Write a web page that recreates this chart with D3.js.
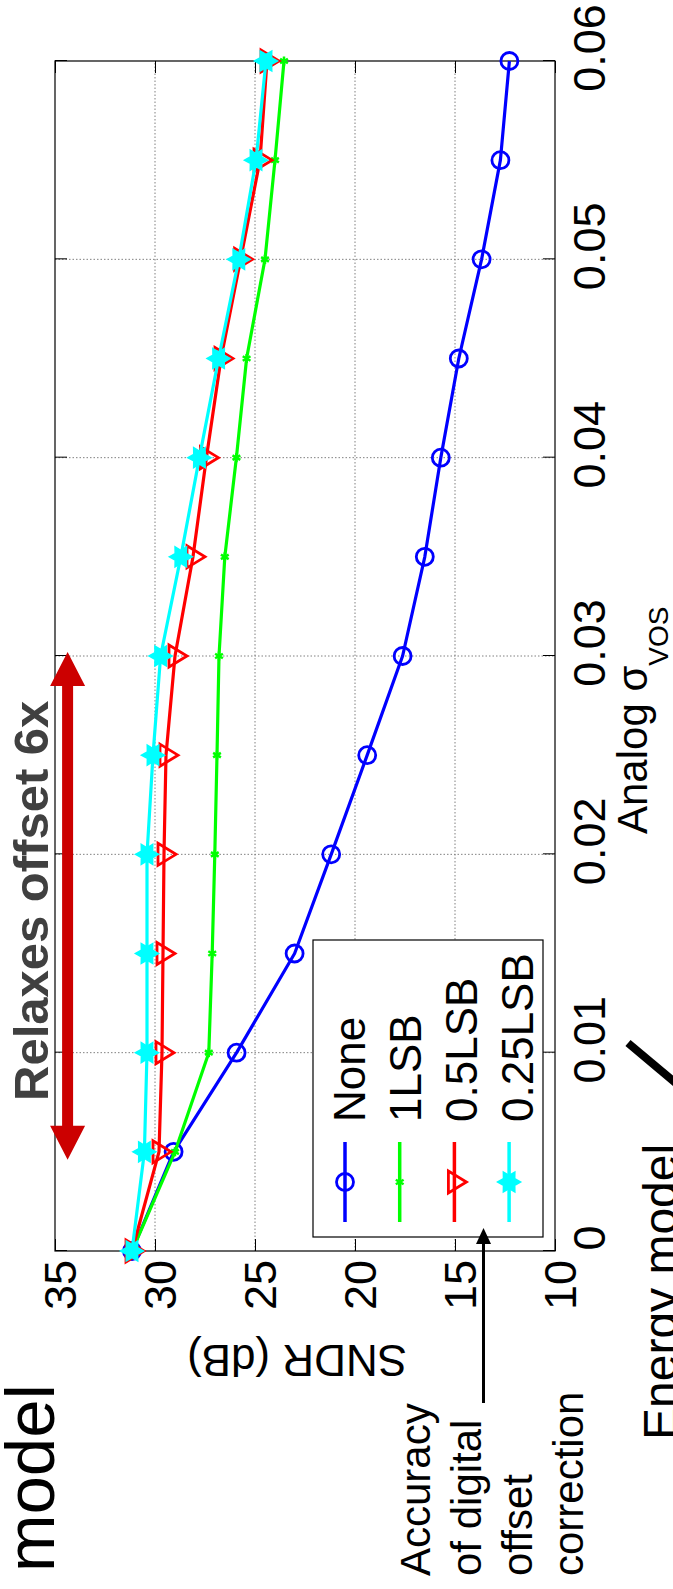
<!DOCTYPE html>
<html><head><meta charset="utf-8">
<script src="https://cdn.jsdelivr.net/npm/d3@7"></script>
<style>body{margin:0;background:#fff}svg{display:block}text{font-family:"Liberation Sans",Arial,sans-serif}</style>
</head><body>
<svg id="c" width="673" height="1589"></svg>
<script>
// ---- data ----
const sigma = [0, 0.005, 0.01, 0.015, 0.02, 0.025, 0.03, 0.035, 0.04, 0.045, 0.05, 0.055, 0.06];
const sndrNone   = [31.15, 29.07, 25.92, 23.02, 21.19, 19.39, 17.62, 16.51, 15.71, 14.81, 13.67, 12.73, 12.28];
const sndr1LSB   = [31.15, 29.0, 27.31, 27.14, 27.01, 26.9, 26.8, 26.51, 25.93, 25.42, 24.5, 24.0, 23.55];
const sndr05LSB  = [31.15, 29.8, 29.65, 29.6, 29.55, 29.45, 29.0, 28.1, 27.43, 26.7, 25.72, 24.75, 24.4];
const sndr025LSB = [31.15, 30.53, 30.4, 30.4, 30.4, 30.1, 29.72, 28.71, 27.78, 26.82, 25.81, 24.95, 24.45];
const seriesNames = ["None", "1LSB", "0.5LSB", "0.25LSB"];
const seriesColors = ["#0000ff", "#00ff00", "#ff0000", "#00ffff"];
const seriesMarkers = ["circle", "asterisk", "triangle", "hexagram"];
const xTicks = [0, 0.01, 0.02, 0.03, 0.04, 0.05, 0.06];
const xTickLabels = ["0", "0.01", "0.02", "0.03", "0.04", "0.05", "0.06"];
const yTicks = [10, 15, 20, 25, 30, 35];
// annotation anchors in data units
const relaxArrowSigma = [0.0046, 0.0302];
const relaxArrowSNDR = 34.37;

const series = [sndrNone, sndr1LSB, sndr05LSB, sndr025LSB];

// ---- drawing (chart built upright, then rotated -90deg) ----
const svg = d3.select("#c");
const g = svg.append("g").attr("transform", "translate(0,1589) rotate(-90)");
const x = d3.scaleLinear().domain([0, 0.06]).range([338, 1528]);
const y = d3.scaleLinear().domain([10, 35]).range([555, 55]);
const X0 = x.range()[0], X1 = x.range()[1], Y0 = y.range()[1], Y1 = y.range()[0];

// grid
const grid = g.append("g").attr("stroke", "#808080").attr("stroke-width", 1).attr("stroke-dasharray", "1.5,2");
grid.selectAll(".gx").data(xTicks.slice(1, -1)).join("line")
  .attr("x1", d => x(d)).attr("x2", d => x(d)).attr("y1", Y0).attr("y2", Y1);
grid.selectAll(".gy").data(yTicks.slice(1, -1)).join("line")
  .attr("y1", d => y(d)).attr("y2", d => y(d)).attr("x1", X0).attr("x2", X1);

// axes
const ax = g.append("g").attr("transform", `translate(0,${Y1})`)
  .call(d3.axisBottom(x).tickValues(xTicks).tickFormat((d, i) => xTickLabels[i]).tickSizeInner(-12).tickSizeOuter(0).tickPadding(18));
ax.selectAll("text").attr("x", 12.5).attr("font-size", 45).attr("fill", "#000");
const ay = g.append("g").attr("transform", `translate(${X0},0)`)
  .call(d3.axisLeft(y).tickValues(yTicks).tickSizeInner(-12).tickSizeOuter(0).tickPadding(9));
ay.selectAll("text").attr("y", 6).attr("font-size", 45).attr("fill", "#000");
g.append("g").attr("transform", `translate(0,${Y0})`)
  .call(d3.axisTop(x).tickValues(xTicks).tickFormat("").tickSizeInner(-12).tickSizeOuter(0));
g.append("g").attr("transform", `translate(${X1},0)`)
  .call(d3.axisRight(y).tickValues(yTicks).tickFormat("").tickSizeInner(-12).tickSizeOuter(0));
g.selectAll(".domain").remove();
g.selectAll(".tick line").attr("stroke", "#000");
g.selectAll("text").attr("font-family", "Liberation Sans, Arial, sans-serif");
g.append("rect").attr("x", X0).attr("y", Y0).attr("width", X1 - X0).attr("height", Y1 - Y0)
  .attr("fill", "none").attr("stroke", "#000").attr("stroke-width", 1.2);

// marker drawing
function hexPath(ro, ri) {
  const pts = [];
  for (let k = 0; k < 12; k++) {
    const a = -Math.PI / 2 + k * Math.PI / 6;
    const r = k % 2 === 0 ? ro : ri;
    pts.push([r * Math.cos(a), r * Math.sin(a)]);
  }
  return "M" + pts.map(p => p.join(",")).join("L") + "Z";
}
function drawMarker(sel, type, color) {
  if (type === "circle") {
    sel.append("circle").attr("r", 8.5).attr("fill", "none").attr("stroke", color).attr("stroke-width", 2.8);
  } else if (type === "asterisk") {
    [0, 60, 120].forEach(a => sel.append("line").attr("x1", -4.5).attr("x2", 4.5)
      .attr("transform", `rotate(${a})`).attr("stroke", color).attr("stroke-width", 2.5));
  } else if (type === "triangle") {
    const w = 22, h = 18;
    sel.append("path").attr("d", `M${-w / 2},${-h / 3}L${w / 2},${-h / 3}L0,${2 * h / 3}Z`)
      .attr("fill", "none").attr("stroke", color).attr("stroke-width", 2.8).attr("stroke-linejoin", "miter");
  } else if (type === "hexagram") {
    sel.append("path").attr("d", hexPath(11.5, 6.5)).attr("fill", color).attr("stroke", color).attr("stroke-width", 1.5);
  }
}

const line = d3.line().x((d, i) => x(sigma[i])).y(d => y(d));
series.forEach((vals, s) => {
  const sg = g.append("g");
  sg.append("path").attr("d", line(vals)).attr("fill", "none")
    .attr("stroke", seriesColors[s]).attr("stroke-width", 3.2).attr("stroke-linejoin", "round");
  vals.forEach((v, i) => {
    const m = sg.append("g").attr("transform", `translate(${x(sigma[i])},${y(v)})`);
    drawMarker(m, seriesMarkers[s], seriesColors[s]);
  });
});

// legend
const lg = g.append("g");
lg.append("rect").attr("x", 352).attr("y", 313).attr("width", 297).attr("height", 230)
  .attr("fill", "#fff").attr("stroke", "#000").attr("stroke-width", 1.2);
seriesNames.forEach((name, i) => {
  const cy = 345 + 54.7 * i;
  lg.append("line").attr("x1", 367).attr("x2", 447).attr("y1", cy).attr("y2", cy)
    .attr("stroke", seriesColors[i]).attr("stroke-width", 3.5);
  drawMarker(lg.append("g").attr("transform", `translate(407,${cy})`), seriesMarkers[i], seriesColors[i]);
  lg.append("text").attr("x", 467).attr("y", 365 + 56 * i).attr("font-size", 44).attr("fill", "#000").text(name);
});

// axis labels
g.append("text").attr("transform", "translate(244,297) rotate(-90)").attr("text-anchor", "middle")
  .attr("font-size", 44).attr("fill", "#000").text("SNDR (dB)");
const xl = g.append("text").attr("x", 755).attr("y", 647).attr("font-size", 42).attr("fill", "#000");
xl.append("tspan").text("Analog σ");
xl.append("tspan").attr("font-size", 28).attr("dy", 21).text("VOS");

// red double arrow
const ax1 = x(relaxArrowSigma[0]), ax2 = x(relaxArrowSigma[1]), ay0 = y(relaxArrowSNDR);
const hl = 34, hw = 17.5, sw = 5.5;
g.append("path").attr("fill", "#cc0000").attr("d",
  `M${ax1},${ay0}L${ax1 + hl},${ay0 - hw}L${ax1 + hl},${ay0 - sw}L${ax2 - hl},${ay0 - sw}L${ax2 - hl},${ay0 - hw}` +
  `L${ax2},${ay0}L${ax2 - hl},${ay0 + hw}L${ax2 - hl},${ay0 + sw}L${ax1 + hl},${ay0 + sw}L${ax1 + hl},${ay0 + hw}Z`);
g.append("text").attr("x", 488).attr("y", 48).attr("font-size", 49).attr("font-weight", "bold")
  .attr("fill", "#404040").text("Relaxes offset 6x");

// other annotations
g.append("text").attr("x", 17).attr("y", 54).attr("font-size", 69).attr("fill", "#000").text("model");
g.append("text").attr("x", 149).attr("y", 677).attr("font-size", 48).attr("fill", "#000").text("Energy model");
g.append("line").attr("x1", 546).attr("y1", 628).attr("x2", 494).attr("y2", 690)
  .attr("stroke", "#000").attr("stroke-width", 8);
const accLines = ["Accuracy", "of digital", "offset", "correction"];
accLines.forEach((t, i) => g.append("text").attr("x", 13).attr("y", 430 + 51 * i)
  .attr("font-size", 42).attr("fill", "#000").text(t));
// black arrow to legend
g.append("line").attr("x1", 186).attr("x2", 347).attr("y1", 483.5).attr("y2", 483.5)
  .attr("stroke", "#000").attr("stroke-width", 3);
g.append("path").attr("d", "M361,483.5L345,476L345,491Z").attr("fill", "#000");
</script>
</body></html>
